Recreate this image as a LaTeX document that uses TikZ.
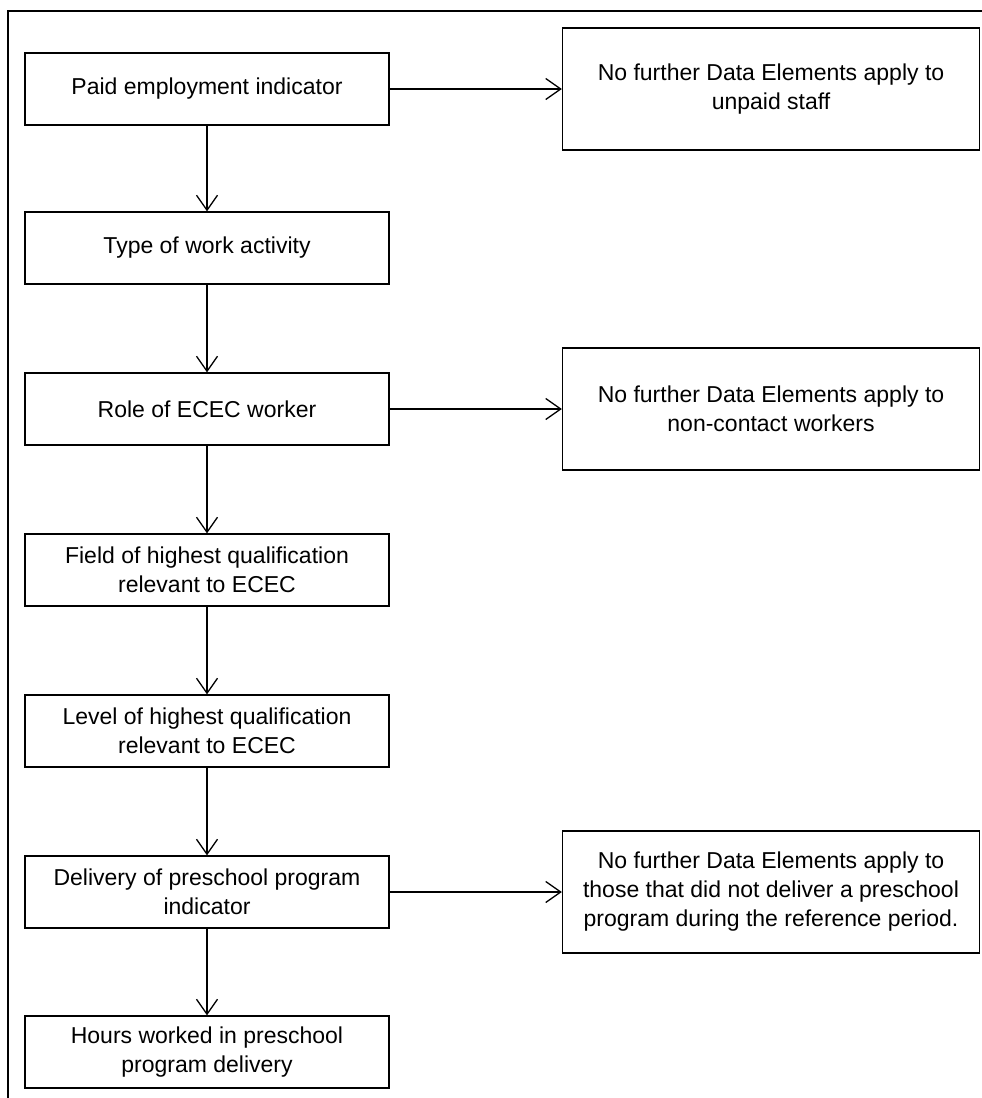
\documentclass[tikz,border=0pt]{standalone}
\usepackage{fontspec}
\setmainfont{Liberation Sans}
\usetikzlibrary{arrows.meta}

\begin{document}
\begin{tikzpicture}[x=1pt, y=-1pt, >={Straight Barb[length=15pt,width=21pt]}, line width=1.3pt,
    box/.style={draw, align=center, minimum width=364pt, minimum height=72pt, inner sep=0pt,
      font=\fontsize{23}{29}\selectfont},
    endbox/.style={box, minimum width=417pt, minimum height=122pt}]
    \useasboundingbox (0,0) rectangle (982,1098);
    \draw (982,11) -- (8,11) -- (8,1098);

    \node[box] (paid) at (207, 89) {Paid employment indicator};
    \node[box] (work) at (207, 248) {Type of work activity};
    \node[box] (role) at (207, 409) {Role of ECEC worker};
    \node[box] (field) at (207, 570) {Field of highest qualification\\relevant to ECEC};
    \node[box] (level) at (207, 731) {Level of highest qualification\\relevant to ECEC};
    \node[box] (deliv) at (207, 892) {Delivery of preschool program\\indicator};
    \node[box] (hours) at (207, 1052) {Hours worked in preschool\\program delivery};

    \node[endbox] (unpaid) at (771, 89) {No further Data Elements apply to\\unpaid staff};
    \node[endbox] (noncontact) at (771, 409) {No further Data Elements apply to\\non-contact workers};
    \node[endbox] (nopre) at (771, 892) {No further Data Elements apply to\\those that did not deliver a preschool\\program during the reference period.};

    \draw[->] (paid) -- (work);
    \draw[->] (work) -- (role);
    \draw[->] (role) -- (field);
    \draw[->] (field) -- (level);
    \draw[->] (level) -- (deliv);
    \draw[->] (deliv) -- (hours);

    \draw[->] (paid) -- (unpaid);
    \draw[->] (role) -- (noncontact);
    \draw[->] (deliv) -- (nopre);
\end{tikzpicture}
\end{document}
